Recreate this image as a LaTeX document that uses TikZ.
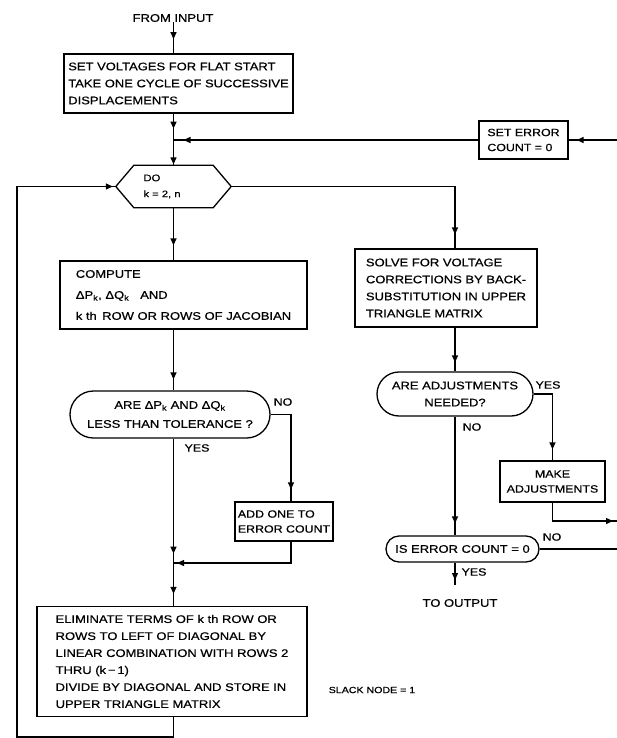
\documentclass[tikz,border=0pt]{standalone}
\usepackage{fontspec}
\setmainfont{Liberation Sans}[FakeStretch=1.18,FakeBold=0.6]
\usetikzlibrary{arrows.meta,shapes.misc,decorations.markings}
\tikzset{
  ma/.style={postaction={decorate,decoration={markings,mark=at position #1 with {\arrow{Triangle[length=7pt,width=6pt]}}}}},
  conn/.style={line width=1.3pt},
  box/.style={draw,line width=1.3pt,rectangle,align=left,inner sep=0pt,font=\fontsize{11}{17}\selectfont},
  sbox/.style={box,font=\fontsize{10.5}{15}\selectfont},
  dec/.style={draw,line width=1.3pt,rounded rectangle,align=center,inner sep=0pt,font=\fontsize{11}{17}\selectfont},
  lbl/.style={font=\fontsize{10.5}{12}\selectfont,inner sep=0pt},
}
\begin{document}
\begin{tikzpicture}[x=1pt,y=-1pt]
\useasboundingbox (0,0) rectangle (616,738);
% nodes
\node[lbl,font=\fontsize{11}{12}\selectfont] (fromin) at (173,18) {FROM INPUT};
\node[box,minimum width=229,minimum height=59] (box1) at (178.5,83.5)
  {SET VOLTAGES FOR FLAT START\\TAKE ONE CYCLE OF SUCCESSIVE\\DISPLACEMENTS};
\node[sbox,minimum width=89,minimum height=38] (seterr) at (523.5,140)
  {SET ERROR\\COUNT = 0};
\node[align=left,minimum width=115,minimum height=42,inner sep=0pt,font=\fontsize{9.5}{16}\selectfont] (hex) at (173.5,186.5)
  {\makebox[60pt][l]{DO}\\\makebox[60pt][l]{k = 2, n}};
\draw[line width=1.3pt] ([xshift=18pt]hex.north west) -- ([xshift=-18pt]hex.north east) -- (hex.east)
  -- ([xshift=-18pt]hex.south east) -- ([xshift=18pt]hex.south west) -- (hex.west) -- cycle;
\node[box,minimum width=247,minimum height=68,font=\fontsize{11}{21}\selectfont] (compute) at (183.5,295)
  {COMPUTE\\ ΔP\textsubscript{k}, ΔQ\textsubscript{k}\quad AND\\k th\, ROW OR ROWS OF JACOBIAN};
\node[box,minimum width=182,minimum height=78] (solve) at (446,288)
  {SOLVE FOR VOLTAGE\\CORRECTIONS BY BACK-\\SUBSTITUTION IN UPPER\\TRIANGLE MATRIX};
\node[dec,minimum width=200,minimum height=47,font=\fontsize{11}{19}\selectfont] (dec1) at (170,414.5)
  {ARE ΔP\textsubscript{k} AND ΔQ\textsubscript{k}\\LESS THAN TOLERANCE ?};
\node[dec,minimum width=156,minimum height=44] (dec2) at (455,394)
  {ARE ADJUSTMENTS\\NEEDED?};
\node[sbox,minimum width=98,minimum height=39] (add) at (284,521.5)
  {ADD ONE TO\\ERROR COUNT};
\node[sbox,align=center,minimum width=105,minimum height=41] (make) at (552.5,481.5)
  {MAKE\\ADJUSTMENTS};
\node[dec,minimum width=153,minimum height=26] (dec3) at (462.5,549)
  {IS ERROR COUNT = 0};
\node[box,minimum width=270,minimum height=110] (elim) at (172,661.5)
  {ELIMINATE TERMS OF k th ROW OR\\ROWS TO LEFT OF DIAGONAL BY\\LINEAR COMBINATION WITH ROWS 2\\THRU (k\,−\,1)\\DIVIDE BY DIAGONAL AND STORE IN\\UPPER TRIANGLE MATRIX};
\node[lbl,font=\fontsize{11}{12}\selectfont] (toout) at (460,603) {TO OUTPUT};
\node[lbl,font=\fontsize{9}{10}\selectfont] (slack) at (372,690) {SLACK NODE = 1};
% labels
\node[lbl] (l1) at (283,402) {NO};
\node[lbl] (l2) at (197,448) {YES};
\node[lbl] (l3) at (548,385) {YES};
\node[lbl] (l4) at (472,427) {NO};
\node[lbl] (l5) at (552,537) {NO};
\node[lbl] (l6) at (474,572) {YES};
% helper coordinates
\coordinate (rt) at (619,0);
\coordinate (mrg) at (173,563);
\coordinate (lft) at (17,737);
\coordinate (mk) at (619,521);
\coordinate (outend) at (455,585);
% connectors
\draw[conn,ma=17pt] (hex |- fromin.south) -- (hex |- box1.north);
\draw[conn,ma=15pt,ma=-1pt] (hex |- box1.south) -- (hex.north);
\draw[conn,ma=-10pt] (seterr.west) -- (hex |- seterr);
\draw[conn,ma=-8pt] (rt |- seterr) -- (seterr.east);
\draw[conn] (dec3.east) -- (rt |- dec3.east) -- (rt |- seterr);
\draw[conn,ma=-14pt] (hex.east) -| (dec2.north |- solve.north);
\draw[conn,ma=-15pt] (hex.south) -- (hex.south |- compute.north);
\draw[conn,ma=-11pt] (hex |- compute.south) -- (hex |- dec1.north);
\draw[conn,ma=-12pt] (dec1.east) -| ([xshift=7pt]add.north);
\draw[conn,ma=-4pt] ([xshift=7pt]add.south) |- (mrg);
\draw[conn,ma=115pt,ma=-12pt] (hex |- dec1.south) -- (hex |- elim.north);
\draw[conn,ma=-3pt] (hex |- elim.south) |- (lft) |- (hex.west);
\draw[conn,ma=-9pt] (dec2.north |- solve.south) -- (dec2.north);
\draw[conn,ma=-11pt] (dec2.east) -| (make.north);
\draw[conn,ma=-6pt] (make.south) |- (mk);
\draw[conn,ma=-12pt] (dec2.south) -- (dec2.south |- dec3.north);
\draw[conn,ma=-5pt] (dec2.south |- dec3.south) -- (outend);
\end{tikzpicture}
\end{document}
